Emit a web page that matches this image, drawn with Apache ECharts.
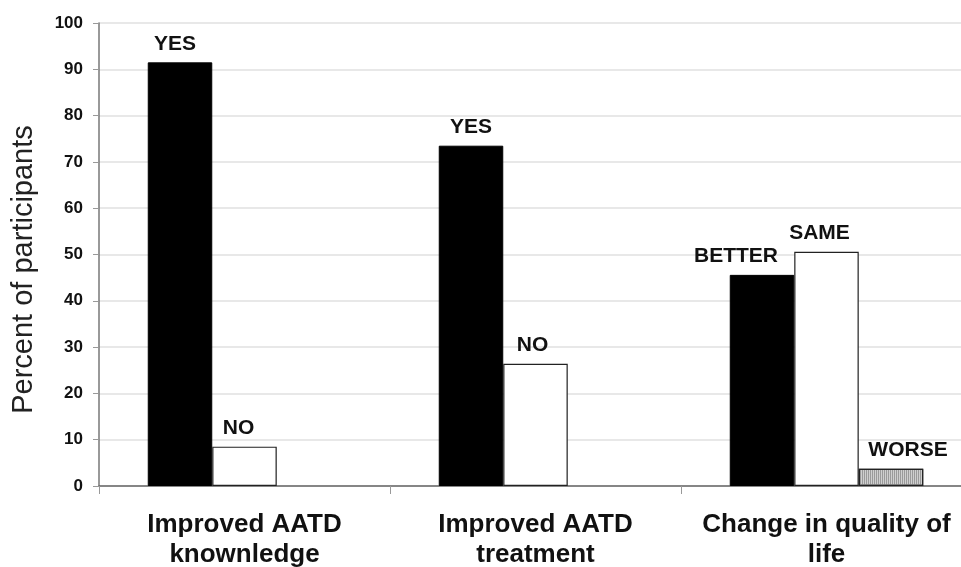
<!DOCTYPE html>
<html><head><meta charset="utf-8">
<script src="https://cdn.jsdelivr.net/npm/echarts@6/dist/echarts.min.js"></script>
<style>html,body{margin:0;padding:0;background:#fff}#c{width:961px;height:567px}</style>
</head><body><div id="c"></div>
<script>
var categories = ['Improved AATD\nknownledge', 'Improved AATD\ntreatment', 'Change in quality of\nlife'];
var firstValues = [91.5, 73.5, 45.6];
var firstLabels = ['YES', 'YES', 'BETTER'];
var secondValues = [8.5, 26.4, 50.6];
var secondLabels = ['NO', 'NO', 'SAME'];
var thirdValues = [null, null, 3.7];
var thirdLabels = ['', '', 'WORSE'];
var yTicks = [0, 10, 20, 30, 40, 50, 60, 70, 80, 90, 100];

var font = 'Liberation Sans, Arial, sans-serif';
function lbl(names) {
  return {
    show: true, position: 'top', distance: 8,
    fontFamily: font, fontWeight: 'bold', fontSize: 21, color: '#111',
    formatter: function (p) { return names[p.dataIndex]; }
  };
}
function data(vals, offs) {
  return vals.map(function (v, i) {
    return { value: v, label: { offset: offs[i] } };
  });
}
var chart = echarts.init(document.getElementById('c'));
chart.setOption({
  animation: false,
  grid: { left: 99, width: 873, top: 23, bottom: 81, containLabel: false, outerBoundsMode: 'none' },
  xAxis: {
    type: 'category', data: categories,
    axisLine: { lineStyle: { color: '#666', width: 1.5 } },
    axisTick: { show: true, length: 8, lineStyle: { color: '#999' } },
    axisLabel: { fontFamily: font, fontWeight: 'bold', fontSize: 26, color: '#111', margin: 24, lineHeight: 30, interval: 0 }
  },
  yAxis: {
    type: 'value', min: 0, max: 100, interval: 10,
    name: 'Percent of participants', nameLocation: 'middle', nameGap: 61,
    nameTextStyle: { fontFamily: font, fontSize: 29, color: '#222', padding: [0, 30, 0, 0] },
    axisLine: { show: true, lineStyle: { color: '#777', width: 1.5 } },
    axisTick: { show: true, length: 6, lineStyle: { color: '#999' } },
    axisLabel: { fontFamily: font, fontWeight: 'bold', fontSize: 17, color: '#111', margin: 16,
      formatter: function (v) { return yTicks.indexOf(v) >= 0 ? String(v) : ''; } },
    splitLine: { show: true, lineStyle: { color: '#e0e0e0', width: 1.5 } }
  },
  series: [
    { type: 'bar', barWidth: 64.5, barGap: '0%',
      itemStyle: { color: '#000', borderColor: '#000', borderWidth: 1 },
      label: lbl(firstLabels),
      data: data(firstValues, [[-5, 0], [0, 0], [-26, 0]]) },
    { type: 'bar', barWidth: 64.5, barGap: '0%',
      itemStyle: { color: '#fff', borderColor: '#222', borderWidth: 1.2 },
      label: lbl(secondLabels),
      data: data(secondValues, [[-6, 0], [-3, 0], [-7, 0]]) },
    { type: 'bar', barWidth: 64.5, barGap: '0%',
      itemStyle: { color: '#cfcfcf', borderColor: '#222', borderWidth: 1.2,
        decal: { symbol: 'rect', dashArrayX: [1, 1], dashArrayY: [4, 0], rotation: 0, color: '#9a9a9a' } },
      label: lbl(thirdLabels),
      data: data(thirdValues, [[0, 0], [0, 0], [17, 0]]) }
  ]
});
</script></body></html>
